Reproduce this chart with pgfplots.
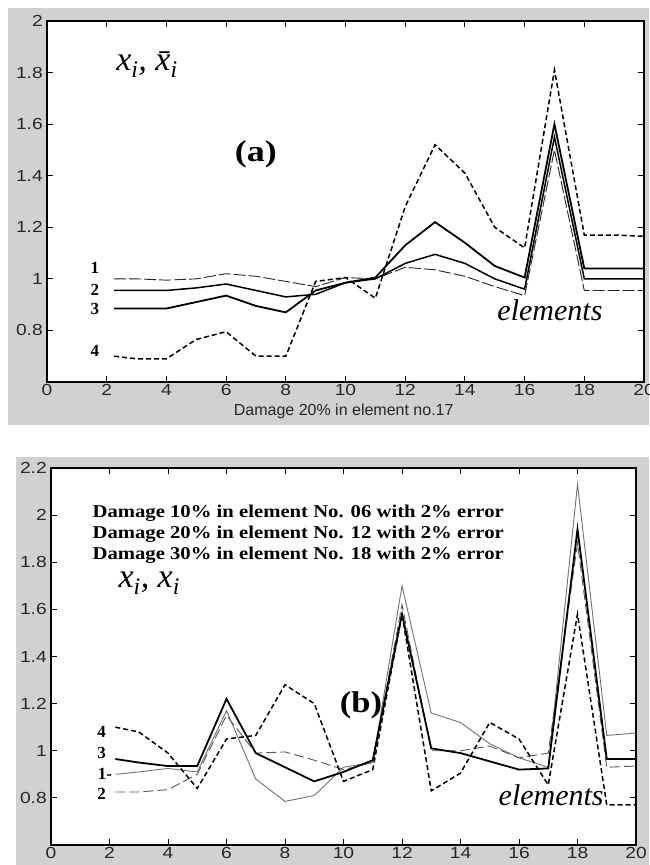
\documentclass[border=0pt]{standalone}
\usepackage{fontspec}
\setmainfont{Liberation Serif}
\setsansfont{Liberation Sans}
\usepackage{graphicx}
\usepackage{pgfplots}
\pgfplotsset{compat=1.18}

\pgfplotsset{mystyle/.style={
  scale only axis, xmin=0, xmax=20, xtick={0,2,...,20},
  tick align=inside, major tick length=6pt,
  every tick/.style={line width=0.9pt, black},
  axis line style={line width=1.3pt},
  ticklabel style={font=\sffamily\fontsize{16}{16}\selectfont, text=black!85, xscale=1.2},
  xticklabel style={yshift=1.5pt},
  /pgf/number format/assume math mode=true,
  axis background/.style={fill=white},
  clip=true,
}}

\newcommand{\lab}[1]{{\bfseries\fontsize{17}{17}\selectfont #1}}

\begin{document}
\begin{tikzpicture}
\useasboundingbox (0pt,0pt) rectangle (649pt,865pt);
\fill[white] (0pt,0pt) rectangle (649pt,865pt);
\fill[black!18] (8pt,440pt) rectangle (649pt,857pt);
\fill[black!18] (16pt,0pt) rectangle (649pt,408pt);

% ---------------- (a)
\begin{axis}[mystyle, at={(47pt,483pt)}, anchor=south west,
  width=597pt, height=361pt, ymin=0.6, ymax=2,
  ytick={0.8,1,1.2,1.4,1.6,1.8,2},
  xlabel={Damage 20\% in element no.17},
  xlabel style={at={(axis description cs:0.497,-0.08)}, anchor=center,
    font=\sffamily\fontsize{16}{16}\selectfont, text=black!85},
]
\addplot[black!85, line width=0.9pt, dash pattern=on 12pt off 3pt] coordinates {
(2.25,1.0) (3,1.0) (4,0.995) (5,1.0) (6,1.02) (7,1.01) (8,0.99) (9,0.97) (10,1.005) (11,1.0) (12,1.045) (13,1.035) (14,1.01) (15,0.97) (16,0.935) (17,1.5) (18,0.955) (19,0.955) (20,0.955)};
\addplot[black, line width=1.5pt] coordinates {
(2.25,0.955) (3,0.955) (4,0.955) (5,0.965) (6,0.98) (7,0.955) (8,0.93) (9,0.94) (10,0.985) (11,1.0) (12,1.06) (13,1.095) (14,1.06) (15,1.0) (16,0.96) (17,1.55) (18,1.0) (19,1.0) (20,1.0)};
\addplot[black, line width=1.8pt] coordinates {
(2.25,0.885) (3,0.885) (4,0.885) (5,0.91) (6,0.935) (7,0.895) (8,0.87) (9,0.955) (10,0.985) (11,1.005) (12,1.13) (13,1.22) (14,1.14) (15,1.05) (16,1.005) (17,1.6) (18,1.04) (19,1.04) (20,1.04)};
\addplot[black, line width=1.5pt, dash pattern=on 5pt off 3pt] coordinates {
(2.25,0.70) (3,0.69) (4,0.69) (5,0.765) (6,0.795) (7,0.70) (8,0.70) (9,0.99) (10,1.005) (11,0.925) (12,1.28) (13,1.52) (14,1.41) (15,1.20) (16,1.12) (17,1.81) (18,1.17) (19,1.17) (20,1.165)};
\node at (axis cs:3.35,1.83) {\fontsize{34}{34}\selectfont\itshape x\textsubscript{i}, \={x}\textsubscript{i}};
\node at (axis cs:7.0,1.485) {\scalebox{1.2}[1]{\bfseries\fontsize{30}{30}\selectfont (a)}};
\node at (axis cs:16.85,0.88) {\fontsize{30}{30}\selectfont\itshape elements};
\node at (axis cs:1.6,1.042) {\lab{1}};
\node at (axis cs:1.6,0.959) {\lab{2}};
\node at (axis cs:1.6,0.882) {\lab{3}};
\node at (axis cs:1.6,0.722) {\lab{4}};
\end{axis}

% ---------------- (b)
\begin{axis}[mystyle, at={(51pt,20pt)}, anchor=south west,
  width=585pt, height=377pt, ymin=0.6, ymax=2.2,
  ytick={0.8,1,1.2,1.4,1.6,1.8,2,2.2},
]
\addplot[black!55, line width=0.9pt] coordinates {
(2.2,0.90) (3,0.91) (4,0.925) (5,0.91) (6,1.17) (7,0.88) (8,0.785) (9,0.81) (10,0.93) (11,0.95) (12,1.70) (13,1.16) (14,1.12) (15,1.03) (16,0.97) (17,0.93) (18,2.13) (19,1.065) (20,1.075)};
\addplot[black!65, line width=0.9pt, dash pattern=on 10pt off 4pt] coordinates {
(2.2,0.825) (3,0.825) (4,0.835) (5,0.90) (6,1.15) (7,0.99) (8,0.995) (9,0.96) (10,0.92) (11,0.95) (12,1.62) (13,1.0) (14,1.0) (15,1.02) (16,0.97) (17,0.99) (18,1.88) (19,0.93) (20,0.935)};
\addplot[black, line width=1.8pt] coordinates {
(2.2,0.965) (3,0.95) (4,0.935) (5,0.935) (6,1.22) (7,0.99) (8,0.93) (9,0.87) (10,0.91) (11,0.96) (12,1.58) (13,1.01) (14,0.99) (15,0.955) (16,0.92) (17,0.925) (18,1.94) (19,0.965) (20,0.965)};
\addplot[black, line width=1.5pt, dash pattern=on 5pt off 3pt] coordinates {
(2.2,1.10) (3,1.08) (4,0.99) (5,0.84) (6,1.05) (7,1.065) (8,1.28) (9,1.20) (10,0.87) (11,0.92) (12,1.58) (13,0.83) (14,0.905) (15,1.12) (16,1.05) (17,0.855) (18,1.58) (19,0.77) (20,0.77)};
\node[anchor=west] at (axis cs:1.3,2.01) {\scalebox{1.15}[1]{\bfseries\fontsize{18}{18}\selectfont Damage 10\% in element No. 06 with 2\% error}};
\node[anchor=west] at (axis cs:1.3,1.92) {\scalebox{1.15}[1]{\bfseries\fontsize{18}{18}\selectfont Damage 20\% in element No. 12 with 2\% error}};
\node[anchor=west] at (axis cs:1.3,1.83) {\scalebox{1.15}[1]{\bfseries\fontsize{18}{18}\selectfont Damage 30\% in element No. 18 with 2\% error}};
\node at (axis cs:3.36,1.71) {\fontsize{34}{34}\selectfont\itshape x\textsubscript{i}, x\textsubscript{i}};
\node at (axis cs:10.6,1.195) {\scalebox{1.15}[1]{\bfseries\fontsize{30}{30}\selectfont (b)}};
\node at (axis cs:17.1,0.81) {\fontsize{30}{30}\selectfont\itshape elements};
\node at (axis cs:1.73,1.08) {\lab{4}};
\node at (axis cs:1.73,0.99) {\lab{3}};
\node[anchor=west] at (axis cs:1.48,0.90) {\lab{1-}};
\node at (axis cs:1.73,0.815) {\lab{2}};
\end{axis}
\end{tikzpicture}
\end{document}
